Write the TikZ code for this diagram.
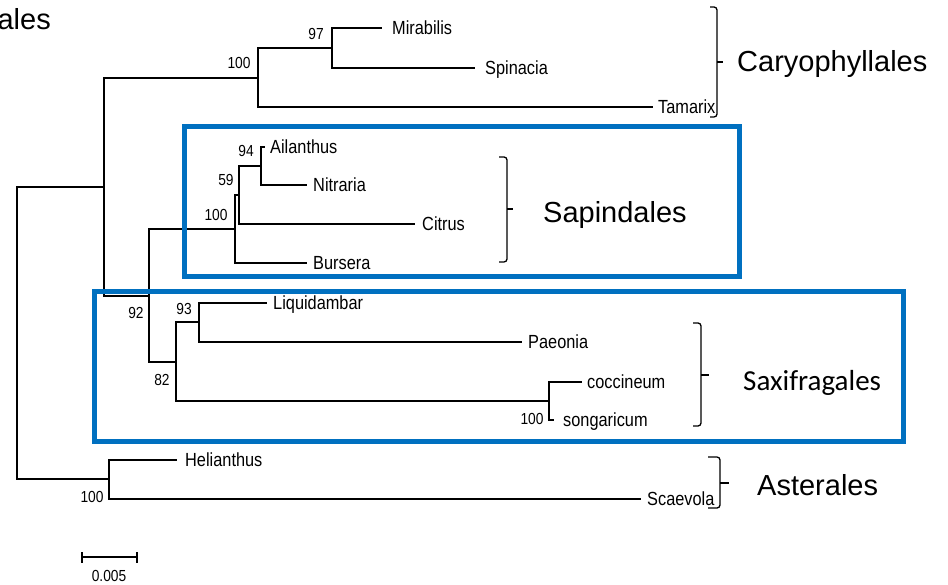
\documentclass[tikz,border=0pt]{standalone}
\usepackage{fontspec}
\setmainfont{Liberation Sans}
\newfontfamily\taxfont[FakeStretch=0.86]{Liberation Sans}
\newfontfamily\calfont{Carlito}
\definecolor{boxblue}{RGB}{0,112,192}
\begin{document}
\begin{tikzpicture}[x=1pt,y=-1pt,
  branch/.style={line width=1.2pt, black},
  leaf/.style={font=\fontsize{19}{22}\taxfont, anchor=west, inner xsep=6pt, inner ysep=0pt, text height=13.6pt, text depth=0pt},
  boot/.style={font=\fontsize{16}{18}\taxfont, inner sep=0pt, text height=11.5pt, text depth=0pt},
  order/.style={font=\fontsize{29}{34}\selectfont, inner sep=0pt, anchor=base west},
  bracket/.style={line width=1.3pt, rounded corners=3pt},
  cladebox/.style={draw=boxblue, line width=5pt},
]
\useasboundingbox (0,0) rectangle (948,585);

% internal nodes
\coordinate (root) at (17,333);
\coordinate (nA) at (104,187);
\coordinate (nC) at (258,78);
\coordinate (nM) at (332,48);
\coordinate (nB) at (149,296);
\coordinate (nS) at (235,229);
\coordinate (nS2) at (239,195);
\coordinate (nS3) at (261,166);
\coordinate (nX) at (176,362);
\coordinate (nX2) at (199,322);
\coordinate (nX3) at (549,401);
\coordinate (nT) at (109,479);

% leaves
\node[leaf, inner xsep=10pt] (mir) at (382,28) {Mirabilis};
\node[leaf, inner xsep=10pt] (spi) at (475,68) {Spinacia};
\node[leaf, inner xsep=5pt] (tam) at (653,107) {Tamarix};
\node[leaf, inner xsep=5pt] (ail) at (265,147) {Ailanthus};
\node[leaf] (nit) at (307,185) {Nitraria};
\node[leaf, inner xsep=7pt] (cit) at (415,224) {Citrus};
\node[leaf] (bur) at (307,263) {Bursera};
\node[leaf] (liq) at (267,303) {Liquidambar};
\node[leaf] (pae) at (522,342) {Paeonia};
\node[leaf, inner xsep=5pt] (coc) at (582,382) {coccineum};
\node[leaf, inner xsep=9pt] (son) at (554,420) {songaricum};
\node[leaf, inner xsep=8pt] (hel) at (177,460) {Helianthus};
\node[leaf] (sca) at (641,499) {Scaevola};

% branches
\draw[branch] (root) |- (nA);
\draw[branch] (root) |- (nT);
\draw[branch] (nA) |- (nC);
\draw[branch] (nA) |- (nB);
\draw[branch] (nC) |- (nM);
\draw[branch] (nC) |- (tam.west);
\draw[branch] (nM) |- (mir.west);
\draw[branch] (nM) |- (spi.west);
\draw[branch] (nB) |- (nS);
\draw[branch] (nB) |- (nX);
\draw[branch] (nS) |- (nS2);
\draw[branch] (nS) |- (bur.west);
\draw[branch] (nS2) |- (nS3);
\draw[branch] (nS2) |- (cit.west);
\draw[branch] (nS3) |- (ail.west);
\draw[branch] (nS3) |- (nit.west);
\draw[branch] (nX) |- (nX2);
\draw[branch] (nX) |- (nX3);
\draw[branch] (nX2) |- (liq.west);
\draw[branch] (nX2) |- (pae.west);
\draw[branch] (nX3) |- (coc.west);
\draw[branch] (nX3) |- (son.west);
\draw[branch] (nT) |- (hel.west);
\draw[branch] (nT) |- (sca.west);

% bootstrap values
\node[boot] (bC) at (239,63) {100};
\node[boot] (bM) at (316,34) {97};
\node[boot] (bS3) at (246,151) {94};
\node[boot] (bS2) at (226,180) {59};
\node[boot] (bS) at (216,215) {100};
\node[boot] (bB) at (136,313) {92};
\node[boot] (bX2) at (184,309) {93};
\node[boot] (bX) at (162,380) {82};
\node[boot] (bX3) at (532,419) {100};
\node[boot] (bT) at (92,497) {100};

% scale bar
\coordinate (sbL) at (82,557);
\coordinate (sbR) at (137,557);
\draw[line width=1.2pt] (sbL) -- (sbR);
\draw[line width=1.2pt] ([yshift=-5.5pt]sbL) -- ([yshift=5.5pt]sbL);
\draw[line width=1.2pt] ([yshift=-5.5pt]sbR) -- ([yshift=5.5pt]sbR);
\node[boot] (sblab) at (109,576) {0.005};

% clade boxes
\draw[cladebox] (184,127) rectangle (739,277);
\draw[cladebox] (94,292) rectangle (903,441);

% brackets
\draw[bracket] (710,7) -- (717,7) -- (717,117) -- (710,117);
\draw[line width=1.3pt] (717,62) -- (723,62);
\draw[bracket] (499,157) -- (507,157) -- (507,262) -- (499,262);
\draw[line width=1.3pt] (507,209) -- (513,209);
\draw[bracket] (693,323) -- (701,323) -- (701,426) -- (693,426);
\draw[line width=1.3pt] (701,375) -- (709,375);
\draw[bracket] (708,457) -- (720,457) -- (720,508) -- (708,508);
\draw[line width=1.3pt] (720,483) -- (729,483);

% order labels
\node[order, anchor=base east] (ales) at (51,30) {ales};
\node[order] (cary) at (737,72) {Caryophyllales};
\node[order] (sapi) at (543,223) {Sapindales};
\node[order, font=\fontsize{29}{34}\calfont] (saxi) at (743,390) {Saxifragales};
\node[order] (aste) at (757,495) {Asterales};
\end{tikzpicture}
\end{document}
